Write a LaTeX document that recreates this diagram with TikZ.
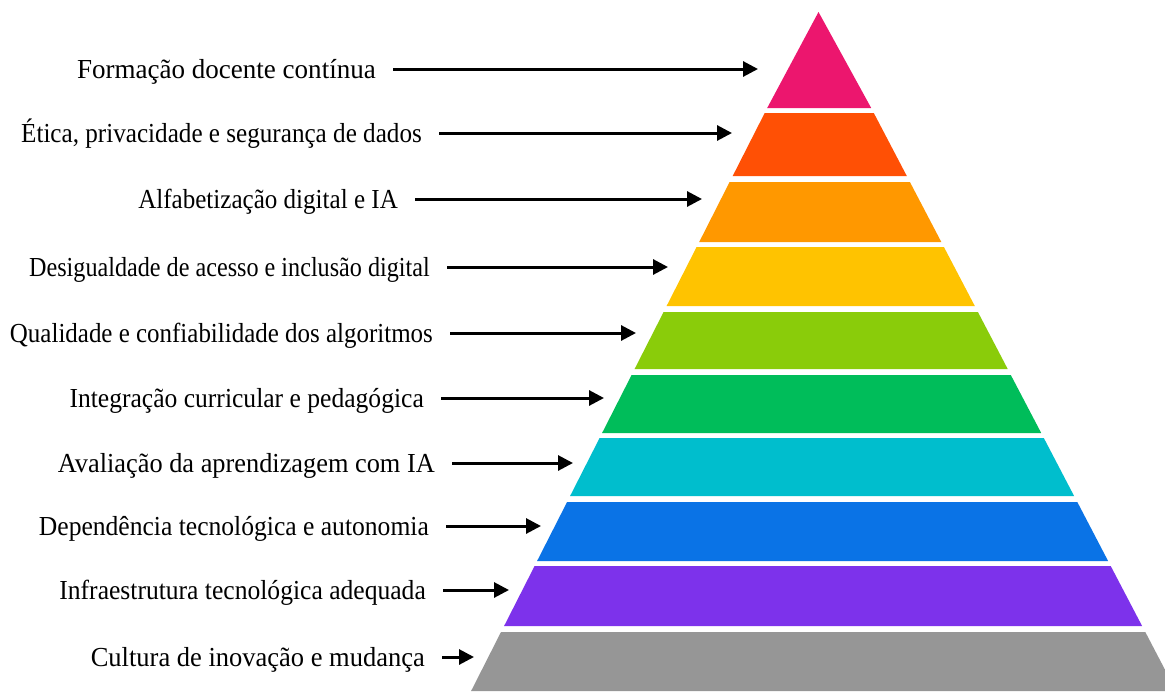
\documentclass[tikz,border=0pt]{standalone}
\usepackage{fontspec}
\setmainfont[FakeStretch=0.93]{Liberation Serif}
\usetikzlibrary{arrows.meta}
\definecolor{camadaA}{HTML}{EC166E}
\definecolor{camadaB}{HTML}{FF5005}
\definecolor{camadaC}{HTML}{FF9800}
\definecolor{camadaD}{HTML}{FFC300}
\definecolor{camadaE}{HTML}{8ACC0A}
\definecolor{camadaF}{HTML}{00BD5A}
\definecolor{camadaG}{HTML}{00BECD}
\definecolor{camadaH}{HTML}{0A73E6}
\definecolor{camadaI}{HTML}{7D32EB}
\definecolor{camadaJ}{HTML}{969696}

\begin{document}
\begin{tikzpicture}[x=1pt, y=-1pt,
    rotulo/.style={anchor=east, inner sep=0pt, text height=18pt, text depth=0pt,
        font=\fontsize{27.5}{32}\selectfont},
    seta/.style={line width=3pt, -{Triangle[length=15pt,width=15pt]}, shorten <=17pt}]
    \clip (0,0) rectangle (1165,691);
    \fill[white] (0,0) rectangle (1165,691);

    \fill[camadaA] (818.5,12) -- (871.2,108) -- (767.2,108) -- cycle;
    \fill[camadaB] (764.7,113) -- (873.8,113) -- (906.8,176) -- (732.7,176) -- cycle;
    \fill[camadaC] (729.6,182) -- (909.9,182) -- (941.3,242) -- (699.2,242) -- cycle;
    \fill[camadaD] (696.6,247) -- (943.9,247) -- (974.8,306) -- (666.6,306) -- cycle;
    \fill[camadaE] (663.6,312) -- (977.9,312) -- (1007.7,369) -- (634.6,369) -- cycle;
    \fill[camadaF] (631.6,375) -- (1010.8,375) -- (1041.2,433) -- (602.1,433) -- cycle;
    \fill[camadaG] (599.6,438) -- (1043.8,438) -- (1074.1,496) -- (570.1,496) -- cycle;
    \fill[camadaH] (567.1,502) -- (1077.3,502) -- (1108.1,561) -- (537.1,561) -- cycle;
    \fill[camadaI] (534.6,566) -- (1110.7,566) -- (1142.1,626) -- (504.1,626) -- cycle;
    \fill[camadaJ] (501,632) -- (1145.3,632) -- (1176.1,691) -- (471.1,691) -- cycle;

    \node[rotulo, xscale=1.057, transform shape] (formacao) at (376,69) {Formação docente contínua};
    \node[rotulo, xscale=0.983, transform shape] (etica) at (422,133) {Ética, privacidade e segurança de dados};
    \node[rotulo, xscale=0.98, transform shape] (alfabetizacao) at (398,199) {Alfabetização digital e IA};
    \node[rotulo, xscale=0.945, transform shape] (desigualdade) at (430,267) {Desigualdade de acesso e inclusão digital};
    \node[rotulo, xscale=0.976, transform shape] (qualidade) at (433,333) {Qualidade e confiabilidade dos algoritmos};
    \node[rotulo] (integracao) at (424,398) {Integração curricular e pedagógica};
    \node[rotulo, xscale=1.03, transform shape] (avaliacao) at (435,463) {Avaliação da aprendizagem com IA};
    \node[rotulo] (dependencia) at (429,526) {Dependência tecnológica e autonomia};
    \node[rotulo] (infraestrutura) at (426,590) {Infraestrutura tecnológica adequada};
    \node[rotulo, xscale=1.036, transform shape] (cultura) at (425,657) {Cultura de inovação e mudança};

    \coordinate (pA) at (758,69);
    \coordinate (pB) at (732,133);
    \coordinate (pC) at (702,199);
    \coordinate (pD) at (668,267);
    \coordinate (pE) at (636,333);
    \coordinate (pF) at (604,398);
    \coordinate (pG) at (573,463);
    \coordinate (pH) at (541,526);
    \coordinate (pI) at (509,590);
    \coordinate (pJ) at (474,657);

    \draw[seta] (formacao) -- (pA);
    \draw[seta] (etica) -- (pB);
    \draw[seta] (alfabetizacao) -- (pC);
    \draw[seta] (desigualdade) -- (pD);
    \draw[seta] (qualidade) -- (pE);
    \draw[seta] (integracao) -- (pF);
    \draw[seta] (avaliacao) -- (pG);
    \draw[seta] (dependencia) -- (pH);
    \draw[seta] (infraestrutura) -- (pI);
    \draw[seta] (cultura) -- (pJ);

\end{tikzpicture}
\end{document}
